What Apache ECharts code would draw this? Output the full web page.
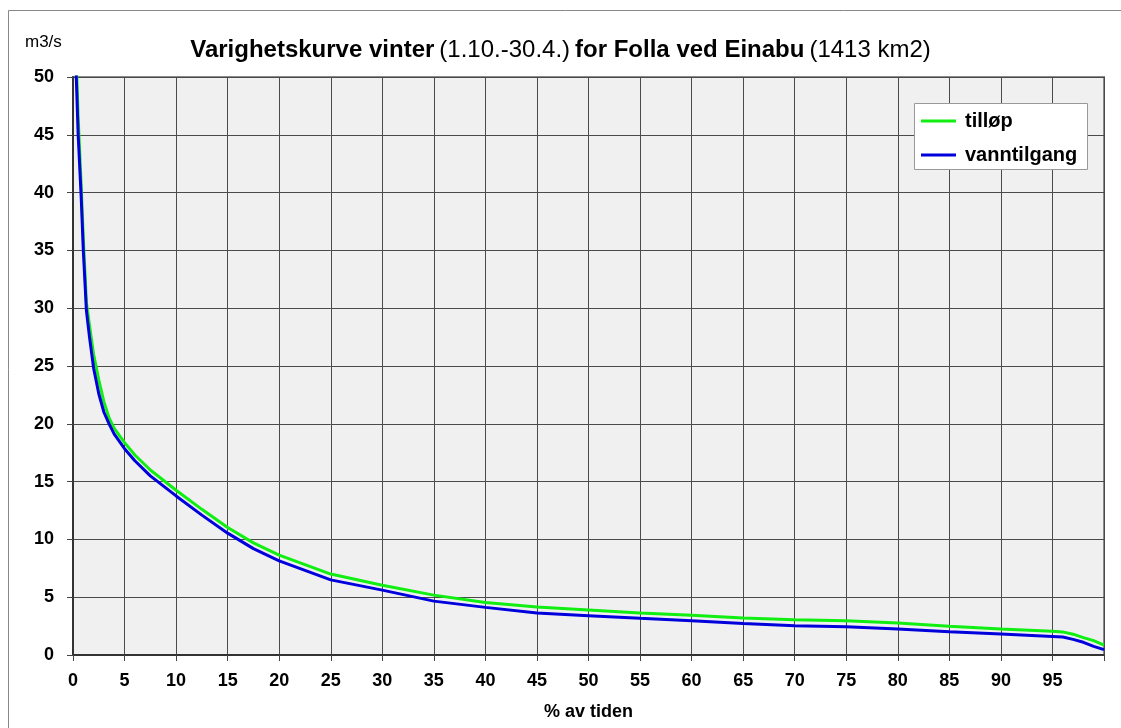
<!DOCTYPE html>
<html>
<head>
<meta charset="utf-8">
<script src="https://cdn.jsdelivr.net/npm/echarts@6/dist/echarts.min.js"></script>
<style>
html,body{margin:0;padding:0;background:#fff;}
#c{width:1121px;height:728px;}
</style>
</head>
<body>
<div id="c"></div>
<script>
// Percent of time (x)
const pct = [0.3, 0.5, 0.8, 1.0, 1.3, 1.6, 2.0, 2.5, 3.0, 3.5, 4.0, 5, 6, 7.5, 10, 12.5, 15, 17.5, 20, 25, 30, 35, 40, 45, 50, 55, 60, 65, 70, 75, 80, 85, 90, 95, 96, 97, 98, 99, 100];
// tilløp (m3/s)
const tilloep = [52, 46.5, 40.5, 36, 30.5, 28.5, 26, 23.8, 21.9, 20.5, 19.6, 18.37, 17.3, 16.0, 14.25, 12.6, 11.03, 9.7, 8.64, 7.0, 6.04, 5.18, 4.55, 4.15, 3.89, 3.63, 3.43, 3.2, 3.05, 2.96, 2.76, 2.48, 2.25, 2.05, 2.0, 1.8, 1.5, 1.24, 0.86];
// vanntilgang (m3/s)
const vanntilgang = [50.5, 45, 39.5, 35, 29.8, 27.5, 24.8, 22.6, 21.0, 20.0, 19.1, 17.85, 16.8, 15.5, 13.76, 12.1, 10.54, 9.2, 8.14, 6.5, 5.61, 4.66, 4.12, 3.63, 3.4, 3.17, 2.96, 2.73, 2.53, 2.44, 2.25, 2.01, 1.81, 1.61, 1.55, 1.35, 1.1, 0.75, 0.46];
const seriesNames = ['tilløp', 'vanntilgang'];
const titleParts = ['Varighetskurve vinter', '(1.10.-30.4.)', 'for Folla ved Einabu', '(1413 km2)'];
const yUnit = 'm3/s';
const xName = '% av tiden';

const FONT = 'Liberation Sans, Arial, sans-serif';
const chart = echarts.init(document.getElementById('c'), null, {renderer: 'canvas'});
const pairs = arr => pct.map((x, i) => [x, arr[i]]);

chart.setOption({
  animation: false,
  backgroundColor: '#ffffff',
  textStyle: {fontFamily: FONT},
  title: {
    text: '{b|' + titleParts[0] + '} {n|' + titleParts[1] + '} {b|' + titleParts[2] + '} {n|' + titleParts[3] + '}',
    left: 'center', top: 33,
    textStyle: {
      rich: {
        b: {fontFamily: FONT, fontSize: 24, fontWeight: 'bold', color: '#000'},
        n: {fontFamily: FONT, fontSize: 24, fontWeight: 'normal', color: '#000'}
      }
    }
  },
  graphic: [
    {type: 'rect', z: 0, shape: {x: 8.5, y: 10.5, width: 1200, height: 800}, style: {fill: null, stroke: '#888', lineWidth: 1}},
    {type: 'text', z: 5, left: 25, top: 34, style: {text: yUnit, font: '17px ' + FONT, fill: '#000'}},
    {type: 'rect', z: 3, shape: {x: 914.5, y: 103.5, width: 173, height: 66}, style: {fill: '#fff', stroke: '#999', lineWidth: 1}}
  ],
  legend: {
    data: seriesNames,
    orient: 'vertical',
    left: 914, top: 103,
    padding: [8, 10, 8, 7],
    itemGap: 14,
    itemWidth: 35, itemHeight: 3,
    icon: 'rect',
    z: 4,
    textStyle: {fontFamily: FONT, fontSize: 20, fontWeight: 'bold', color: '#000', lineHeight: 19, padding: [0, 0, 0, 4]}
  },
  grid: {
    left: 73, right: 17, top: 77, bottom: 73,
    show: true, backgroundColor: '#f0f0f0', borderColor: '#8a8a8a', borderWidth: 2
  },
  xAxis: {
    type: 'value', min: 0, max: 100, interval: 5,
    name: xName, nameLocation: 'middle', nameGap: 48,
    nameTextStyle: {fontFamily: FONT, fontSize: 18, fontWeight: 'bold', color: '#000'},
    axisLine: {show: true, onZero: false, lineStyle: {color: '#333', width: 2}},
    axisTick: {show: true, length: 6, lineStyle: {color: '#444'}},
    axisLabel: {margin: 17, fontFamily: FONT, fontSize: 18, fontWeight: 'bold', color: '#000',
      formatter: v => (v >= 100 ? '' : String(v))},
    splitLine: {show: true, lineStyle: {color: '#4a4a4a', width: 1}}
  },
  yAxis: {
    type: 'value', min: 0, max: 50, interval: 5,
    axisLine: {show: true, onZero: false, lineStyle: {color: '#333', width: 2}},
    axisTick: {show: true, length: 6, lineStyle: {color: '#444'}},
    axisLabel: {margin: 19, fontFamily: FONT, fontSize: 18, fontWeight: 'bold', color: '#000'},
    splitLine: {show: true, lineStyle: {color: '#4a4a4a', width: 1}}
  },
  series: [
    {name: seriesNames[0], type: 'line', data: pairs(tilloep), showSymbol: false, symbol: 'none', clip: true,
      lineStyle: {color: '#11ee11', width: 3}, itemStyle: {color: '#11ee11'}, z: 2},
    {name: seriesNames[1], type: 'line', data: pairs(vanntilgang), showSymbol: false, symbol: 'none', clip: true,
      lineStyle: {color: '#0000dd', width: 3}, itemStyle: {color: '#0000dd'}, z: 3}
  ]
});
</script>
</body>
</html>
